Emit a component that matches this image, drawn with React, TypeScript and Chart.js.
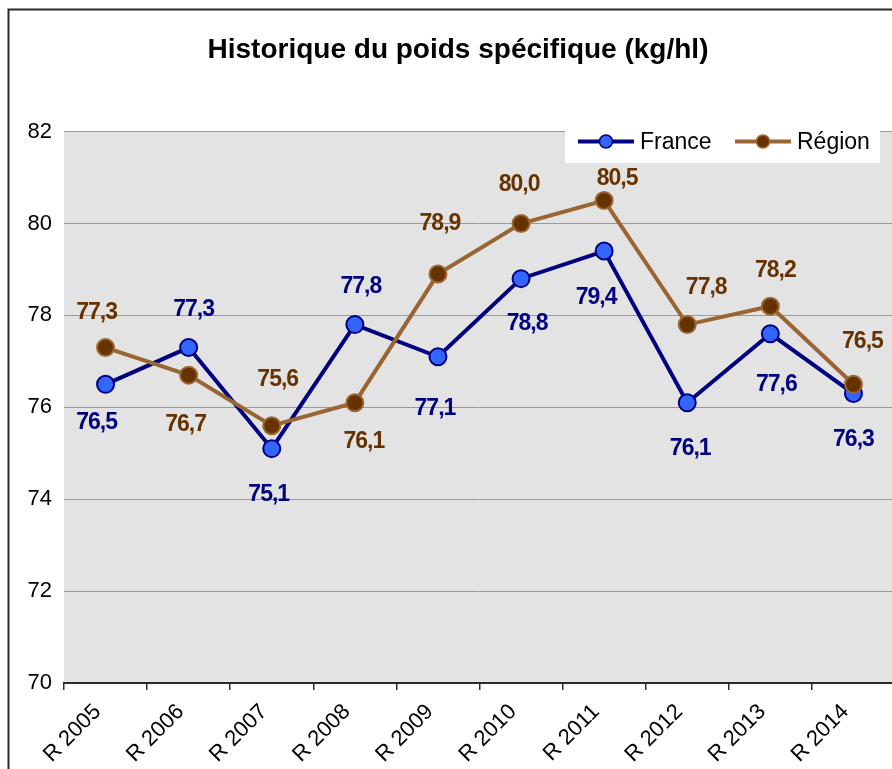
import { useEffect, useRef } from 'react';
import { Chart, registerables } from 'chart.js';

Chart.register(...registerables);

const categories = ['R 2005', 'R 2006', 'R 2007', 'R 2008', 'R 2009', 'R 2010', 'R 2011', 'R 2012', 'R 2013', 'R 2014'];
const franceValues = [76.5, 77.3, 75.1, 77.8, 77.1, 78.8, 79.4, 76.1, 77.6, 76.3];
const regionValues = [77.3, 76.7, 75.6, 76.1, 78.9, 80.0, 80.5, 77.8, 78.2, 76.5];
const yMin = 70;
const yMax = 82;
const yStep = 2;

// label placement (style): offsets in px from each point
const franceLabelDx = [-9, 5, -3, 6, -3, 6, -8, 3, 6, 0];
const franceLabelDy = [38, -38, 46, -38, 52, 45, 47, 46, 51, 46];
const regionLabelDx = [-9, -3, 6, 9, 2, -2, 13, 19, 5, 9];
const regionLabelDy = [-35, 50, -46, 39, -50, -39, -22, -37, -36, -43];

const FONT = '"Liberation Sans", Arial, Helvetica, sans-serif';
const FRANCE_LINE = '#000080';
const FRANCE_FILL = '#3366FF';
const REGION_LINE = '#996633';
const REGION_FILL = '#663300';

const W = 912;
const H = 790;

const fmt = (v: number) => v.toFixed(1).replace('.', ',');

const framePlugin = {
  id: 'frame',
  beforeDraw(chart: any) {
    const { ctx, chartArea } = chart;
    ctx.save();
    ctx.fillStyle = '#ffffff';
    ctx.fillRect(0, 0, chart.width, chart.height);
    ctx.fillStyle = '#E3E3E3';
    ctx.fillRect(chartArea.left, chartArea.top, chartArea.right - chartArea.left, chartArea.bottom - chartArea.top);
    ctx.strokeStyle = '#2a2a2a';
    ctx.lineWidth = 2;
    ctx.beginPath();
    ctx.moveTo(8.5, chart.height);
    ctx.lineTo(8.5, 9.5);
    ctx.lineTo(chart.width, 9.5);
    ctx.stroke();
    ctx.restore();
  },
};

const labelsPlugin = {
  id: 'valueLabels',
  afterDatasetsDraw(chart: any) {
    const { ctx } = chart;
    const cfgs = [
      { dx: franceLabelDx, dy: franceLabelDy, color: FRANCE_LINE },
      { dx: regionLabelDx, dy: regionLabelDy, color: REGION_FILL },
    ];
    ctx.save();
    ctx.font = `bold 23px ${FONT}`;
    try { (ctx as any).letterSpacing = '-1px'; } catch (e) {}
    ctx.textAlign = 'center';
    ctx.textBaseline = 'middle';
    chart.data.datasets.forEach((ds: any, i: number) => {
      const meta = chart.getDatasetMeta(i);
      const c = cfgs[i];
      ctx.fillStyle = c.color;
      meta.data.forEach((pt: any, j: number) => {
        ctx.fillText(fmt(ds.data[j]), pt.x + c.dx[j], pt.y + c.dy[j]);
      });
    });
    ctx.restore();
  },
};

const legendPlugin = {
  id: 'insideLegend',
  afterDraw(chart: any) {
    const { ctx } = chart;
    ctx.save();
    ctx.fillStyle = '#ffffff';
    ctx.fillRect(565, 118, 315, 45);
    const y = 141.5;
    const items = [
      { x: 578, line: FRANCE_LINE, fill: FRANCE_FILL, border: FRANCE_LINE, text: 'France' },
      { x: 735, line: REGION_LINE, fill: REGION_FILL, border: REGION_LINE, text: 'Région' },
    ];
    items.forEach((it) => {
      ctx.strokeStyle = it.line;
      ctx.lineWidth = 4;
      ctx.beginPath();
      ctx.moveTo(it.x, y);
      ctx.lineTo(it.x + 56, y);
      ctx.stroke();
      ctx.beginPath();
      ctx.arc(it.x + 28, y, 6.5, 0, Math.PI * 2);
      ctx.fillStyle = it.fill;
      ctx.fill();
      ctx.lineWidth = 1.5;
      ctx.strokeStyle = it.border;
      ctx.stroke();
      ctx.fillStyle = '#000';
      ctx.font = `23px ${FONT}`;
      ctx.textAlign = 'left';
      ctx.textBaseline = 'middle';
      ctx.fillText(it.text, it.x + 62, y + 1);
    });
    ctx.restore();
  },
};

export default function App() {
  const canvasRef = useRef<HTMLCanvasElement | null>(null);

  useEffect(() => {
    if (!canvasRef.current) return;
    const chart = new Chart(canvasRef.current, {
      type: 'line',
      data: {
        labels: categories,
        datasets: [
          {
            label: 'France',
            data: franceValues,
            borderColor: FRANCE_LINE,
            backgroundColor: FRANCE_FILL,
            borderWidth: 4,
            pointRadius: 8.5,
            pointBorderWidth: 2,
            pointBackgroundColor: FRANCE_FILL,
            pointBorderColor: FRANCE_LINE,
            tension: 0,
            order: 1,
          },
          {
            label: 'Région',
            data: regionValues,
            borderColor: REGION_LINE,
            backgroundColor: REGION_FILL,
            borderWidth: 4,
            pointRadius: 8.5,
            pointBorderWidth: 2,
            pointBackgroundColor: REGION_FILL,
            pointBorderColor: REGION_LINE,
            tension: 0,
            order: 0,
          },
        ],
      },
      options: {
        responsive: false,
        animation: false,
        layout: { padding: { left: 21, right: 17, top: 0, bottom: 0 } },
        plugins: {
          legend: { display: false },
          tooltip: { enabled: false },
          title: {
            display: true,
            text: 'Historique du poids spécifique (kg/hl)',
            color: '#000',
            font: { family: FONT, size: 28, weight: 'bold' },
            padding: { top: 33, bottom: 65 },
          },
        },
        scales: {
          x: {
            type: 'category',
            offset: true,
            grid: {
              display: true,
              drawOnChartArea: false,
              drawTicks: true,
              tickLength: 7,
              offset: true,
              color: '#2a2a2a',
              lineWidth: 1.5,
            },
            border: { display: true, color: '#2a2a2a', width: 2 },
            ticks: {
              color: '#000',
              font: { family: FONT, size: 22 },
              minRotation: 45,
              maxRotation: 45,
              padding: 9,
              labelOffset: -8,
              autoSkip: false,
            },
            afterFit(scale: any) {
              scale.height = H - 683;
            },
          },
          y: {
            min: yMin,
            max: yMax,
            grid: { color: '#A4A44C', lineWidth: 1, drawTicks: false },
            border: { display: false },
            ticks: {
              stepSize: yStep,
              color: '#000',
              font: { family: FONT, size: 22 },
              padding: 12,
            },
            afterFit(scale: any) {
              scale.width = 43;
            },
          },
        },
      },
      plugins: [framePlugin, labelsPlugin, legendPlugin],
    } as any);
    return () => chart.destroy();
  }, []);

  return (
    <div style={{ position: 'fixed', left: 0, top: 0, width: 892, height: 769, overflow: 'hidden', background: '#fff' }}>
      <div style={{ position: 'absolute', left: 0, top: 0, width: W, height: H }}>
        <canvas ref={canvasRef} width={W} height={H} style={{ display: 'block', width: W, height: H }} />
      </div>
    </div>
  );
}
